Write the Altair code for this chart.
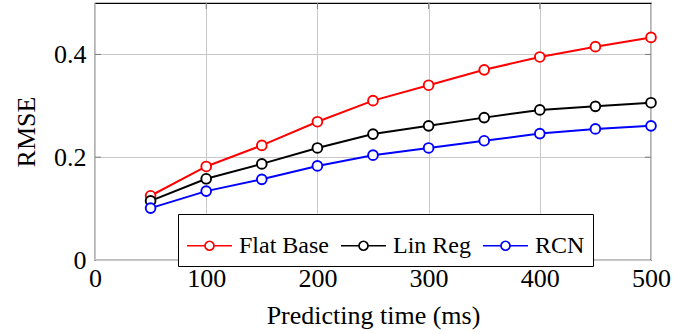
import altair as alt
import pandas as pd

x_ms = [50, 100, 150, 200, 250, 300, 350, 400, 450, 500]
flat_base = [0.125, 0.182, 0.223, 0.269, 0.310, 0.340, 0.370, 0.395, 0.415, 0.433]
lin_reg = [0.115, 0.158, 0.187, 0.218, 0.245, 0.261, 0.277, 0.292, 0.299, 0.306]
rcn = [0.101, 0.134, 0.157, 0.183, 0.204, 0.218, 0.232, 0.246, 0.255, 0.261]

series = ["Flat Base", "Lin Reg", "RCN"]
colors = ["#ff0000", "#000000", "#0000ff"]
x_ticks = [0, 100, 200, 300, 400, 500]
y_ticks = [0, 0.2, 0.4]

rows = []
for name, vals in zip(series, [flat_base, lin_reg, rcn]):
    for xv, yv in zip(x_ms, vals):
        rows.append({"t": xv, "rmse": yv, "method": name})
df = pd.DataFrame(rows)

W, H = 556, 257
TICK = 6
FONT = "Liberation Serif"
legend_path = ("M-1,0L-0.2,0M0.2,0L1,0"
               "M-0.2,0A0.2,0.2,0,1,1,0.2,0A0.2,0.2,0,1,1,-0.2,0Z")

xscale = alt.Scale(domain=[0, 500], nice=False)
yscale = alt.Scale(domain=[0, 0.5], nice=False)
x_axis = alt.Axis(values=x_ticks, labelFontSize=26,
                  titleFontSize=26, titleFontWeight="normal", labelColor="black",
                  titleColor="black", ticks=False, domain=False, gridColor="#c8c8c8",
                  labelPadding=5, titlePadding=11, labelFlush=False)
y_axis = alt.Axis(values=y_ticks, labelFontSize=26,
                  titleFontSize=26, titleFontWeight="normal", labelColor="black",
                  titleColor="black", ticks=False, domain=False, gridColor="#c8c8c8",
                  labelPadding=9, titlePadding=14, labelFlush=False,
                  labelExpr="datum.value == 0 ? '0' : format(datum.value, '.1f')")
X_TITLE = "Predicting time (ms)"
Y_TITLE = "RMSE"

lines = alt.Chart(df).mark_line(
    strokeWidth=2,
    point=alt.OverlayMarkDef(filled=False, fill="white", size=95, strokeWidth=1.9, opacity=1),
).encode(
    x=alt.X("t:Q", title=X_TITLE, scale=xscale, axis=x_axis),
    y=alt.Y("rmse:Q", title=Y_TITLE, scale=yscale, axis=y_axis),
    color=alt.Color("method:N", scale=alt.Scale(domain=series, range=colors),
                    legend=alt.Legend(title=None, orient="none", legendX=83, legendY=211,
                                      direction="horizontal", columns=3,
                                      symbolType=legend_path, symbolSize=2025,
                                      symbolStrokeWidth=1.7, symbolFillColor="white",
                                      labelFontSize=24, labelColor="black",
                                      labelOffset=6, columnPadding=8, padding=8,
                                      strokeColor="black", fillColor="white",
                                      labelLimit=300)),
)

xt = pd.DataFrame({"t": x_ticks[1:-1]})
yt = pd.DataFrame({"rmse": y_ticks[1:]})
tick_color = "#7a7a7a"

x_bottom = alt.Chart(xt).mark_rule(color=tick_color, strokeWidth=1).encode(
    x=alt.X("t:Q", title=X_TITLE, scale=xscale, axis=x_axis), y=alt.value(H), y2=alt.value(H - TICK))
x_top = alt.Chart(xt).mark_rule(color=tick_color, strokeWidth=1).encode(
    x=alt.X("t:Q", title=X_TITLE, scale=xscale, axis=x_axis), y=alt.value(0), y2=alt.value(TICK))
y_left = alt.Chart(yt).mark_rule(color=tick_color, strokeWidth=1).encode(
    y=alt.Y("rmse:Q", title=Y_TITLE, scale=yscale, axis=y_axis), x=alt.value(0), x2=alt.value(TICK))
y_right = alt.Chart(yt).mark_rule(color=tick_color, strokeWidth=1).encode(
    y=alt.Y("rmse:Q", title=Y_TITLE, scale=yscale, axis=y_axis), x=alt.value(W - TICK), x2=alt.value(W))

chart = alt.layer(lines, x_bottom, x_top, y_left, y_right).properties(
    width=W, height=H,
    autosize=alt.AutoSizeParams(type="none"),
    padding={"left": 95, "top": 3, "right": 38, "bottom": 74},
).configure(
    font=FONT,
).configure_axis(
    labelFont=FONT, titleFont=FONT,
).configure_legend(
    labelFont=FONT,
).configure_view(stroke="black", strokeWidth=1.2)

chart.save("out.html", embed_options={"renderer": "svg", "actions": False})
